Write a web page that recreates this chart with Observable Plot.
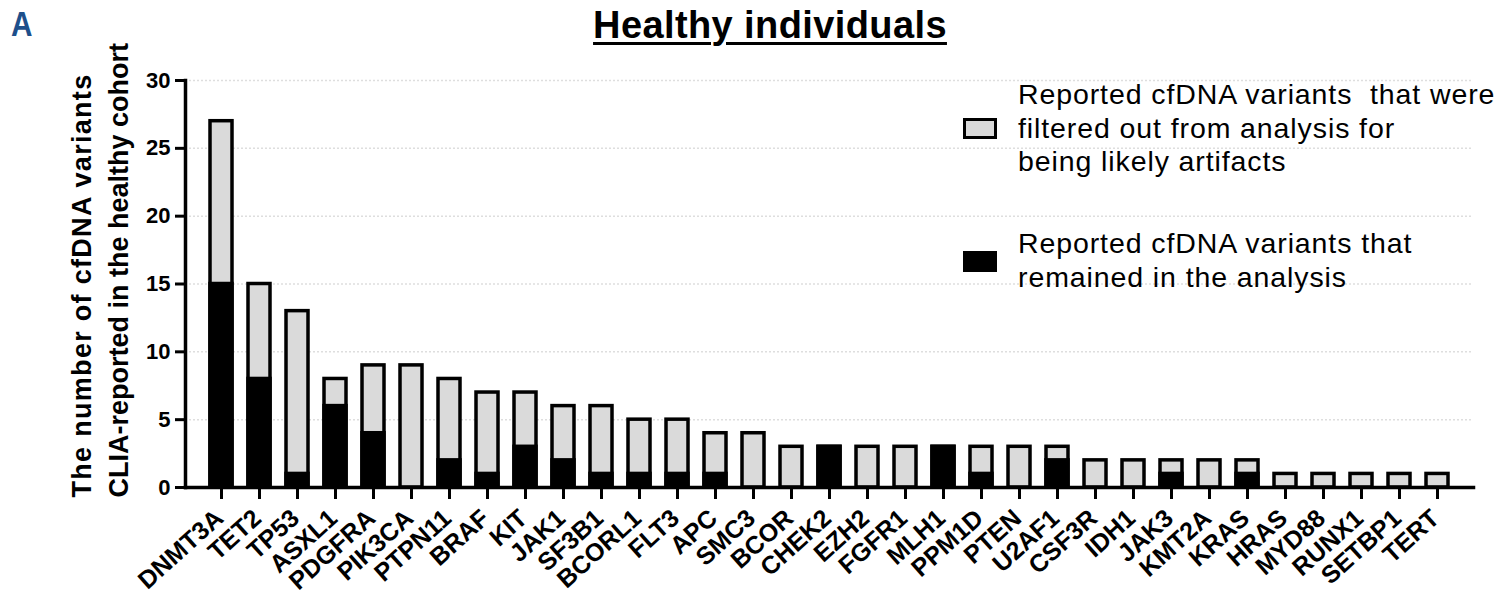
<!DOCTYPE html>
<html>
<head>
<meta charset="utf-8">
<script src="https://cdn.jsdelivr.net/npm/d3@7"></script>
<script src="https://cdn.jsdelivr.net/npm/@observablehq/plot@0.6"></script>
<style>
  html, body { margin: 0; padding: 0; background: #fff; }
  #wrap { position: relative; width: 1506px; height: 596px; font-family: "Liberation Sans", Arial, sans-serif; color: #000; }
  #wrap svg { position: absolute; left: 0; top: 0; }
  .ov { position: absolute; white-space: nowrap; }
  #panel { left: 11px; top: 6px; font-size: 35px; line-height: 35px; font-weight: bold; color: #1d4f8b; transform: scaleX(0.85); transform-origin: left; }
  #title { left: 770px; top: 6px; transform: translateX(-50%); font-size: 38px; line-height: 38px; letter-spacing: 0.4px; font-weight: bold; text-decoration: underline; text-decoration-thickness: 3px; text-underline-offset: 4px; }
  .leg { left: 1018px; font-size: 28.5px; line-height: 33.5px; letter-spacing: 0.9px; }
  .sw { position: absolute; left: 963px; width: 34px; height: 21px; box-sizing: border-box; border: 3px solid #000; }
</style>
</head>
<body>
<div id="wrap"></div>
<script>
const genes = ["DNMT3A","TET2","TP53","ASXL1","PDGFRA","PIK3CA","PTPN11","BRAF","KIT","JAK1","SF3B1","BCORL1","FLT3","APC","SMC3","BCOR","CHEK2","EZH2","FGFR1","MLH1","PPM1D","PTEN","U2AF1","CSF3R","IDH1","JAK3","KMT2A","KRAS","HRAS","MYD88","RUNX1","SETBP1","TERT"];
const totals =   [27,15,13,8,9,9,8,7,7,6,6,5,5,4,4,3,3,3,3,3,3,3,3,2,2,2,2,2,1,1,1,1,1];
const remained = [15, 8, 1,6,4,0,2,1,3,2,1,1,1,1,0,0,3,0,0,3,1,0,2,0,0,1,0,1,0,0,0,0,0];
const yTicks = [0,5,10,15,20,25,30];
const yTitle = ["The number of cfDNA variants", "CLIA-reported in the healthy cohort"];
const legendLabels = [
  "Reported cfDNA variants&nbsp; that were<br>filtered out from analysis for<br>being likely artifacts",
  "Reported cfDNA variants that<br>remained in the analysis"
];

const data = genes.map((g, i) => ({gene: g, total: totals[i], remained: remained[i]}));
const FONT = "Liberation Sans, Arial, sans-serif";

const chart = Plot.plot({
  width: 1506,
  height: 596,
  marginTop: 80,
  marginBottom: 109,
  marginLeft: 185,
  marginRight: 33,
  style: {fontFamily: FONT, background: "transparent", color: "#000", overflow: "visible"},
  x: {domain: genes, paddingInner: 0.43, paddingOuter: 0.4, label: null},
  y: {domain: [0, 30], label: null},
  marks: [
    Plot.gridY(yTicks.slice(1), {stroke: "#dedede", strokeOpacity: 1, strokeDasharray: "2,2", strokeWidth: 1.5}),
    Plot.barY(data, {x: "gene", y1: 0, y2: "total", fill: "#dadada", stroke: "#000", strokeWidth: 3.5}),
    Plot.barY(data.filter(d => d.remained > 0), {x: "gene", y1: 0, y2: "remained", fill: "#000", stroke: "#000", strokeWidth: 3.5}),
    Plot.axisY({ticks: yTicks, tickSize: 10, tickPadding: 5, strokeWidth: 3, fontSize: 22, fontWeight: "bold", label: null}),
    Plot.axisX({tickSize: 12, strokeWidth: 3, tickFormat: () => "", label: null}),
    Plot.axisX({tickSize: 0, tickPadding: 27, tickRotate: -42, dx: -2, fontSize: 25, fontWeight: "bold", label: null}),
    Plot.frame({anchor: "left", strokeWidth: 3.5}),
    Plot.frame({anchor: "bottom", strokeWidth: 3.5}),
    Plot.text([yTitle[0]], {text: d => d, frameAnchor: "bottom-left", rotate: -90, textAnchor: "start", lineAnchor: "bottom", dx: -95, dy: 10, fontSize: 27, fontWeight: "bold"}),
    Plot.text([yTitle[1]], {text: d => d, frameAnchor: "bottom-left", rotate: -90, textAnchor: "start", lineAnchor: "bottom", dx: -58, dy: 10, fontSize: 27, fontWeight: "bold"})
  ]
});

d3.select(chart).selectAll("text")
  .filter(function() { return this.textContent === yTitle[0]; })
  .style("letter-spacing", "1.3px");

const wrap = document.getElementById("wrap");
wrap.appendChild(chart);

function addDiv(id, cls, html, style) {
  const d = document.createElement("div");
  if (id) d.id = id;
  d.className = cls;
  d.innerHTML = html;
  if (style) Object.assign(d.style, style);
  wrap.appendChild(d);
  return d;
}
addDiv("panel", "ov", "A");
addDiv("title", "ov", "Healthy individuals");
addDiv(null, "ov leg", legendLabels[0], {top: "78px"});
addDiv(null, "ov leg", legendLabels[1], {top: "227px"});
addDiv(null, "sw", "", {top: "118px", background: "#dadada"});
addDiv(null, "sw", "", {top: "251px", background: "#000"});
</script>
</body>
</html>
